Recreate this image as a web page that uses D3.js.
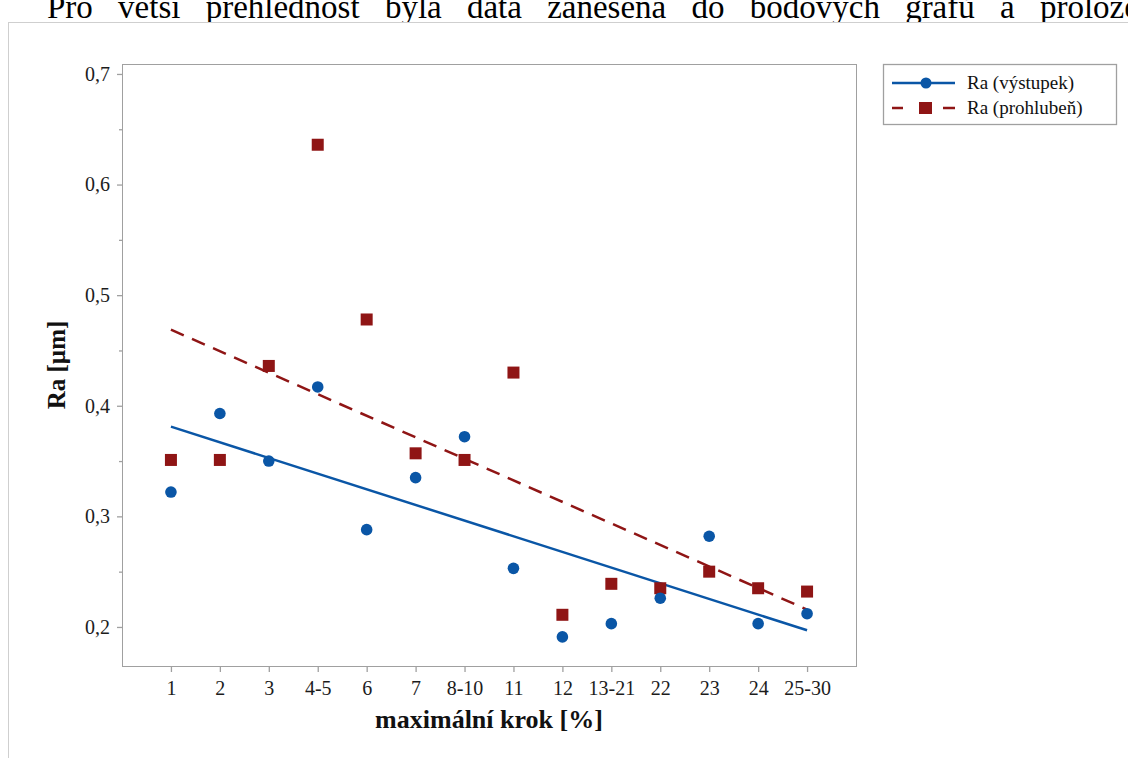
<!DOCTYPE html>
<html>
<head>
<meta charset="utf-8">
<script src="https://cdn.jsdelivr.net/npm/d3@7"></script>
<style>
  body { margin: 0; background: #fff; overflow: hidden; }
  text { font-family: "Liberation Serif", "Times New Roman", serif; }
</style>
</head>
<body>
<div id="chart"></div>
<script>
// categories on the x axis (maximální krok [%])
var categories = ["1", "2", "3", "4-5", "6", "7", "8-10", "11", "12", "13-21", "22", "23", "24", "25-30"];

// Ra values
var raVystupek  = [0.322, 0.393, 0.350, 0.417, 0.288, 0.335, 0.372, 0.253, 0.191, 0.203, 0.226, 0.282, 0.203, 0.212];
var raProhluben = [0.351, 0.351, 0.436, 0.636, 0.478, 0.357, 0.351, 0.430, 0.211, 0.239, 0.235, 0.250, 0.235, 0.232];

var seriesNames = ["Ra (výstupek)", "Ra (prohlubeň)"];
var yTicks = [0.2, 0.3, 0.4, 0.5, 0.6, 0.7];
var yMinorTicks = [0.25, 0.35, 0.45, 0.55, 0.65];

var introText = "Pro větší přehlednost byla data zanesena do bodových grafů a proložena";

var width = 1128,
    height = 758;

var margin = {top: 64, right: 272, bottom: 92, left: 122};

var blue = "#0a56a6",
    red = "#8f1515",
    axisGray = "#a0a0a0";

// decimal comma
var locale = d3.formatLocale({decimal: ",", thousands: " ", grouping: [3], currency: ["", " Kč"]});
var fmt = locale.format(".1f");

// least squares fit over the category index
function fitLine(values) {
    var n = values.length,
        mx = d3.mean(values, function(d, i) { return i; }),
        my = d3.mean(values);
    var sxy = d3.sum(values, function(d, i) { return (i - mx) * (d - my); }),
        sxx = d3.sum(values, function(d, i) { return (i - mx) * (i - mx); });
    var b = sxy / sxx, a = my - b * mx;
    return [[0, a], [n - 1, a + b * (n - 1)]];
}

var svg = d3.select("#chart").append("svg")
    .attr("width", width)
    .attr("height", height);

// running text of the document above the figure (cut off at the top)
svg.append("text")
    .attr("x", 47)
    .attr("y", 18)
    .style("font-size", "33px")
    .style("word-spacing", "17px")
    .attr("fill", "#000")
    .text(introText);

// figure frame, covers the descenders of the text
svg.append("rect")
    .attr("x", 8.5)
    .attr("y", 22.5)
    .attr("width", 1200)
    .attr("height", 800)
    .attr("fill", "#fff")
    .attr("stroke", "#cfcfcf");

var innerW = width - margin.left - margin.right,
    innerH = height - margin.top - margin.bottom;

var x = d3.scaleLinear()
    .domain([-1, categories.length])
    .range([0, innerW]);

var y = d3.scaleLinear()
    .domain([0.1647, 0.709])
    .range([innerH, 0]);

var g = svg.append("g")
    .attr("transform", "translate(" + margin.left + "," + margin.top + ")");

// plot frame
g.append("rect")
    .attr("x", 0.5)
    .attr("y", 0.5)
    .attr("width", innerW)
    .attr("height", innerH)
    .attr("fill", "none")
    .attr("stroke", axisGray);

// y axis, major + minor ticks
g.append("g")
    .attr("class", "y-axis")
    .call(d3.axisLeft(y).tickValues(yTicks).tickFormat(fmt).tickSize(5).tickPadding(7));

g.append("g")
    .attr("class", "y-minor")
    .call(d3.axisLeft(y).tickValues(yMinorTicks).tickFormat("").tickSize(3));

// x axis
g.append("g")
    .attr("class", "x-axis")
    .attr("transform", "translate(0," + innerH + ")")
    .call(d3.axisBottom(x).tickValues(d3.range(categories.length))
        .tickFormat(function(i) { return categories[i]; })
        .tickSize(6).tickPadding(9));

g.selectAll(".domain").remove();
g.selectAll(".tick line").attr("stroke", axisGray).attr("stroke-width", 1.3);
g.selectAll(".tick text")
    .attr("fill", "#1c1c1c")
    .style("font-size", "20px")
    .style("font-family", "'Liberation Serif', serif");

// axis titles
svg.append("text")
    .attr("x", margin.left + innerW / 2)
    .attr("y", 728)
    .attr("text-anchor", "middle")
    .style("font-size", "26px")
    .style("font-weight", "bold")
    .attr("fill", "#111")
    .text("maximální krok [%]");

svg.append("text")
    .attr("transform", "translate(65," + (margin.top + innerH / 2) + ") rotate(-90)")
    .attr("text-anchor", "middle")
    .style("font-size", "25px")
    .style("font-weight", "bold")
    .attr("fill", "#111")
    .text("Ra [µm]");

// fitted lines
var line = d3.line()
    .x(function(d) { return x(d[0]); })
    .y(function(d) { return y(d[1]); });

g.append("path")
    .datum(fitLine(raVystupek))
    .attr("d", line)
    .attr("fill", "none")
    .attr("stroke", blue)
    .attr("stroke-width", 2.5);

g.append("path")
    .datum(fitLine(raProhluben))
    .attr("d", line)
    .attr("fill", "none")
    .attr("stroke", red)
    .attr("stroke-width", 2.5)
    .attr("stroke-dasharray", "14,9");

// points
g.selectAll("rect.prohluben")
    .data(raProhluben).enter().append("rect")
    .attr("class", "prohluben")
    .attr("x", function(d, i) { return x(i) - 6; })
    .attr("y", function(d) { return y(d) - 6; })
    .attr("width", 12)
    .attr("height", 12)
    .attr("fill", red);

g.selectAll("circle.vystupek")
    .data(raVystupek).enter().append("circle")
    .attr("class", "vystupek")
    .attr("cx", function(d, i) { return x(i); })
    .attr("cy", function(d) { return y(d); })
    .attr("r", 5.8)
    .attr("fill", blue);

// legend
var legend = svg.append("g")
    .attr("transform", "translate(883,64)");

legend.append("rect")
    .attr("x", 0.5)
    .attr("y", 0.5)
    .attr("width", 233)
    .attr("height", 60)
    .attr("fill", "#fff")
    .attr("stroke", axisGray)
    .attr("stroke-width", 1.3);

var rows = legend.selectAll("g.row")
    .data(seriesNames).enter().append("g")
    .attr("class", "row")
    .attr("transform", function(d, i) { return "translate(0," + (19 + i * 25) + ")"; });

rows.append("line")
    .attr("x1", 9).attr("x2", 72)
    .attr("stroke", function(d, i) { return i ? red : blue; })
    .attr("stroke-width", 2.5)
    .attr("stroke-dasharray", function(d, i) { return i ? "11,40,12" : null; });

rows.each(function(d, i) {
    var r = d3.select(this);
    if (i) {
        r.append("rect").attr("x", 36).attr("y", -6).attr("width", 13).attr("height", 12).attr("fill", red);
    } else {
        r.append("circle").attr("cx", 43).attr("r", 5.5).attr("fill", blue);
    }
});

rows.append("text")
    .attr("x", 84)
    .attr("dy", "0.33em")
    .style("font-size", "19px")
    .attr("fill", "#111")
    .text(function(d) { return d; });
</script>
</body>
</html>
